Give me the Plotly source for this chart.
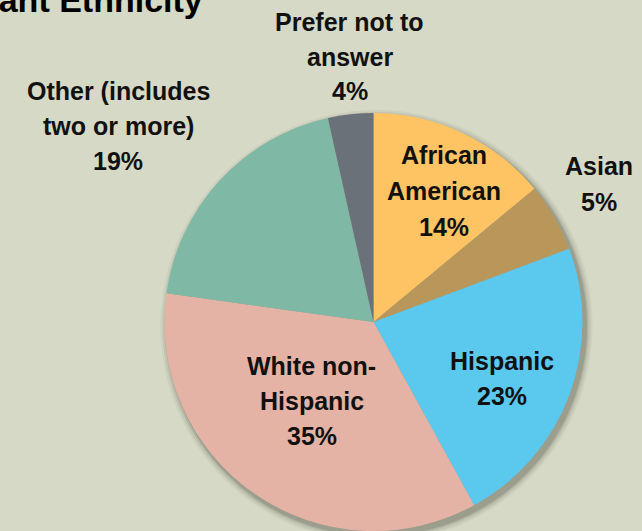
import plotly.graph_objects as go

# ---- data ----
categories = ["African American", "Asian", "Hispanic", "White non-Hispanic",
              "Other (includes two or more)", "Prefer not to answer"]
values = [14.0, 5.3, 22.7, 35.2, 19.3, 3.5]
label_lines = [["African", "American"], ["Asian"], ["Hispanic"],
               ["White non-", "Hispanic"], ["Other (includes", "two or more)"],
               ["Prefer not to", "answer"]]
colors = ["#FEC463", "#B9975B", "#5BC8EE", "#E5B3A5", "#7FB8A5", "#6B7179"]
title_text = "Participant Ethnicity"

# ---- layout params (pixels) ----
W, H = 642, 531
BG = "#D6D9C6"
cx, cy, R = 373.5, 322, 209
FS = 25
# label anchor: center x, baseline of first line, line spacing
label_pos = [(443.5, 164, 36), (599, 175, 36), (502.5, 370, 35),
             (311.5, 375, 35), (118, 100, 35), (350, 31, 34.5)]

fig = go.Figure()
fig.add_trace(go.Pie(
    labels=categories, values=values, sort=False, direction="clockwise",
    rotation=0, marker=dict(colors=colors, line=dict(width=0)),
    textinfo="none", hoverinfo="label+percent", showlegend=False,
    domain=dict(x=[(cx - R) / W, (cx + R) / W], y=[(H - cy - R) / H, (H - cy + R) / H]),
))

def px(x):
    return x / W

def py(y):
    return 1 - y / H

annotations = []
total = sum(values)
for lines, v, (lx, by, sp) in zip(label_lines, values, label_pos):
    all_lines = lines + [f"{int(100 * v / total + 0.5)}%"]
    for i, t in enumerate(all_lines):
        base = by + i * sp
        annotations.append(dict(
            x=px(lx), y=py(base - 0.35 * FS), xref="paper", yref="paper",
            text=f"<b>{t}</b>", showarrow=False, xanchor="center", yanchor="middle",
            font=dict(family="Liberation Sans, Arial, sans-serif", size=FS, color="#111111"),
        ))

TS = 34
annotations.append(dict(
    x=px(205), y=py(12 - 0.35 * TS), xref="paper", yref="paper",
    text=f"<b>{title_text}</b>", showarrow=False, xanchor="right", yanchor="middle",
    font=dict(family="Liberation Sans, Arial, sans-serif", size=TS, color="#000000"),
))

# soft drop shadow behind the pie
shapes = []
for d, op in [(7, 0.06), (5, 0.08), (3, 0.12), (1.5, 0.18)]:
    ox, oy = 3, 4
    shapes.append(dict(
        type="circle", xref="paper", yref="paper", layer="below",
        x0=px(cx - R - d + ox), x1=px(cx + R + d + ox),
        y0=py(cy + R + d + oy), y1=py(cy - R - d + oy),
        fillcolor=f"rgba(60,60,50,{op})", line=dict(width=0),
    ))

fig.update_layout(
    width=W, height=H, margin=dict(l=0, r=0, t=0, b=0),
    paper_bgcolor=BG, plot_bgcolor=BG,
    annotations=annotations, shapes=shapes,
)

fig.write_html("out.html", config={"displayModeBar": False},
               post_script="document.body.style.margin='0';document.body.style.overflow='hidden';")
